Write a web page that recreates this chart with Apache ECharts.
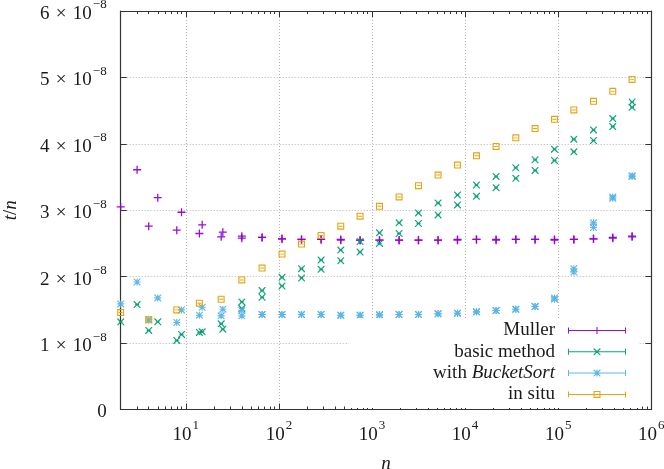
<!DOCTYPE html>
<html><head><meta charset="utf-8">
<script src="https://cdn.jsdelivr.net/npm/echarts@6/dist/echarts.min.js"></script>
<style>html,body{margin:0;padding:0;background:#fff}#c{width:664px;height:469px}</style>
</head><body><div id="c"></div>
<script>
// ---- data (t/n in units of 1e-8) ----
const nSmallA = [2, 4, 8, 14, 24];
const nSmallB = [3, 5, 9, 15, 25];
const nLarge = [40, 66, 108, 175, 284, 462, 745, 1204, 1955, 3157, 5125, 8285, 13250, 21520, 35060, 56490, 91250, 147300, 239400, 385600, 622000];

const mullerSmallA = [3.05, 2.76, 2.70, 2.65, 2.60];
const mullerSmallB = [3.61, 3.19, 2.97, 2.78, 2.67];
const mullerLargeA = [2.61, 2.59, 2.57, 2.56, 2.56, 2.56, 2.55, 2.55, 2.55, 2.55, 2.55, 2.56, 2.56, 2.56, 2.56, 2.56, 2.56, 2.56, 2.57, 2.58, 2.60];
const mullerLargeB = [2.58, 2.59, 2.57, 2.56, 2.56, 2.55, 2.55, 2.55, 2.55, 2.55, 2.55, 2.55, 2.56, 2.55, 2.56, 2.56, 2.55, 2.56, 2.57, 2.59, 2.61];

const basicSmallA = [1.32, 1.19, 1.04, 1.16, 1.29];
const basicSmallB = [1.58, 1.32, 1.13, 1.17, 1.21];
const basicLargeA = [1.62, 1.79, 1.99, 2.12, 2.25, 2.40, 2.53, 2.66, 2.81, 2.96, 3.11, 3.23, 3.38, 3.51, 3.64, 3.76, 3.92, 4.07, 4.21, 4.38, 4.63];
const basicLargeB = [1.52, 1.69, 1.86, 1.98, 2.11, 2.24, 2.37, 2.50, 2.65, 2.80, 2.93, 3.08, 3.21, 3.34, 3.48, 3.60, 3.75, 3.88, 4.05, 4.26, 4.55];

const bucketSmallA = [1.59, 1.35, 1.31, 1.42, 1.41];
const bucketSmallB = [1.92, 1.68, 1.50, 1.54, 1.51];
const bucketLargeA = [1.41, 1.43, 1.43, 1.43, 1.43, 1.42, 1.42, 1.42, 1.43, 1.43, 1.44, 1.45, 1.47, 1.49, 1.51, 1.55, 1.66, 2.07, 2.74, 3.18, 3.51];
const bucketLargeB = [1.49, 1.43, 1.43, 1.43, 1.43, 1.42, 1.42, 1.43, 1.43, 1.43, 1.44, 1.45, 1.47, 1.49, 1.51, 1.55, 1.68, 2.12, 2.81, 3.20, 3.52];

const insituSmallA = [1.46, 1.35, 1.50, 1.60, 1.66];
const insituLargeA = [1.95, 2.13, 2.34, 2.49, 2.62, 2.76, 2.91, 3.06, 3.20, 3.37, 3.53, 3.68, 3.82, 3.96, 4.09, 4.23, 4.37, 4.51, 4.64, 4.79, 4.97];

const seriesNames = ['Muller', 'basic method', 'with BucketSort', 'in situ'];
const seriesColors = ['#9400d3', '#009e73', '#56b4e9', '#e69f00'];
const yTickValues = [0, 1, 2, 3, 4, 5, 6];
const xMinorTicks = [3, 4, 5, 6, 7, 8, 9,
  20, 30, 40, 50, 60, 70, 80, 90,
  200, 300, 400, 500, 600, 700, 800, 900,
  2000, 3000, 4000, 5000, 6000, 7000, 8000, 9000,
  20000, 30000, 40000, 50000, 60000, 70000, 80000, 90000,
  200000, 300000, 400000, 500000, 600000, 700000, 800000, 900000];

// ---- helpers ----
function zip(xs, ys) { return ys.map((y, i) => [xs[i], y]); }
function rect(x, y, w, h) { return 'M' + x + ' ' + y + 'h' + w + 'v' + h + 'h' + (-w) + 'Z'; }
function hole(x, y, w, h) { return 'M' + x + ' ' + y + 'v' + h + 'h' + w + 'v' + (-h) + 'Z'; }
function plusP(ox, oy, s, t) { return rect(ox, oy + s / 2 - t / 2, s, t) + rect(ox + s / 2 - t / 2, oy, t, s); }
function crossP(ox, oy, s, t) {
  const d = t * 0.75;
  return 'M' + ox + ' ' + oy + 'L' + (ox + d) + ' ' + oy + 'L' + (ox + s) + ' ' + (oy + s - d) + 'L' + (ox + s) + ' ' + (oy + s) + 'L' + (ox + s - d) + ' ' + (oy + s) + 'L' + ox + ' ' + (oy + d) + 'Z' +
    'M' + (ox + s) + ' ' + oy + 'L' + (ox + s) + ' ' + (oy + d) + 'L' + (ox + d) + ' ' + (oy + s) + 'L' + ox + ' ' + (oy + s) + 'L' + ox + ' ' + (oy + s - d) + 'L' + (ox + s - d) + ' ' + oy + 'Z';
}
function dashP(ox, oy, s, t) { return rect(ox + s * 0.22, oy + s / 2 - t / 2, s * 0.56, t); }
function markerP(kind, ox, oy, s, t) {
  if (kind === 0) return plusP(ox, oy, s, t);
  if (kind === 1) return crossP(ox, oy, s, t) + dashP(ox, oy, s, t * 0.8);
  if (kind === 2) return plusP(ox, oy, s, t) + crossP(ox, oy, s, t);
  return rect(ox, oy, s, s) + hole(ox + t, oy + t, s - 2 * t, s - 2 * t) + dashP(ox, oy, s, t * 0.8);
}
function symbolPath(kind) { return 'path://' + markerP(kind, 0, 0, 10, 1.6); }
function legendPath(kind) {
  return 'path://' + rect(0, 3, 58, 1) + rect(0, 0.5, 1, 6) + rect(57, 0.5, 1, 6) + markerP(kind, 25.5, 0, 7, 1.1);
}

const FONT = 'Liberation Serif';
const FS = 19;
const TXT = '#1a1a1a';
const FRAME = '#333';
const GRIDC = '#b4b4b4';

const dataSets = [
  zip(nSmallA, mullerSmallA).concat(zip(nSmallB, mullerSmallB), zip(nLarge, mullerLargeA), zip(nLarge, mullerLargeB)),
  zip(nSmallA, basicSmallA).concat(zip(nSmallB, basicSmallB), zip(nLarge, basicLargeA), zip(nLarge, basicLargeB)),
  zip(nSmallA, bucketSmallA).concat(zip(nSmallB, bucketSmallB), zip(nLarge, bucketLargeA), zip(nLarge, bucketLargeB)),
  zip(nSmallA, insituSmallA).concat(zip(nLarge, insituLargeA))
];

const chart = echarts.init(document.getElementById('c'), null, { renderer: 'canvas' });
const supRich = {
  b: { fontFamily: FONT, fontSize: FS, lineHeight: 25, color: TXT, verticalAlign: 'bottom' },
  s: { fontFamily: FONT, fontSize: 13, lineHeight: 13, color: TXT, verticalAlign: 'top', padding: [0, 0, 0, 1] }
};
const lgMin = Math.log10(2);
const gridRect = { left: 120.7, right: 12.7, top: 11, bottom: 59.5, containLabel: false, outerBoundsMode: 'none' };
const tickStyle = { color: FRAME, width: 1 };

chart.setOption({
  animation: false,
  backgroundColor: '#fff',
  grid: [Object.assign({}, gridRect), Object.assign({}, gridRect)],
  xAxis: [
    {
      gridIndex: 0, type: 'log', logBase: 10, min: 2, max: 1000000, position: 'bottom',
      name: 'n', nameLocation: 'middle', nameGap: 45,
      nameTextStyle: { fontFamily: FONT, fontSize: FS, fontStyle: 'italic', color: TXT },
      axisLine: { show: true, onZero: false, lineStyle: { color: FRAME, width: 1.2 } },
      axisTick: { show: true, inside: true, length: 6, lineStyle: tickStyle },
      minorTick: { show: false },
      splitLine: { show: true, lineStyle: { color: GRIDC, type: [1, 2], width: 1 } },
      axisLabel: {
        margin: 10, showMinLabel: true, showMaxLabel: true,
        formatter: function (v) {
          const e = Math.round(Math.log10(v));
          if (Math.abs(Math.pow(10, e) - v) > 1e-6 * v) return '';
          return '{b|10}{s|' + e + '}';
        },
        rich: supRich
      }
    },
    {
      gridIndex: 0, type: 'log', logBase: 10, min: 2, max: 1000000, position: 'top',
      axisLine: { show: true, onZero: false, lineStyle: { color: FRAME, width: 1.2 } },
      axisTick: { show: true, inside: true, length: 6, lineStyle: tickStyle },
      axisLabel: { show: false }, splitLine: { show: false }
    },
    {
      gridIndex: 1, type: 'value', min: lgMin, max: 6, position: 'bottom',
      axisLine: { show: false }, axisLabel: { show: false }, splitLine: { show: false },
      axisTick: { show: true, inside: true, length: 3, lineStyle: tickStyle, customValues: xMinorTicks.map(Math.log10) }
    },
    {
      gridIndex: 1, type: 'value', min: lgMin, max: 6, position: 'top',
      axisLine: { show: false }, axisLabel: { show: false }, splitLine: { show: false },
      axisTick: { show: true, inside: true, length: 3, lineStyle: tickStyle, customValues: xMinorTicks.map(Math.log10) }
    }
  ],
  yAxis: [
    {
      gridIndex: 0, type: 'value', min: 0, max: 6, interval: 1, position: 'left',
      name: '{i|t}{r|/}{i|n}', nameLocation: 'middle', nameGap: 100,
      nameTextStyle: {
        rich: {
          i: { fontFamily: FONT, fontSize: FS, fontStyle: 'italic', color: TXT },
          r: { fontFamily: FONT, fontSize: FS, color: TXT }
        }
      },
      axisLine: { show: true, onZero: false, lineStyle: { color: FRAME, width: 1.2 } },
      axisTick: { show: true, inside: true, length: 6, lineStyle: tickStyle },
      splitLine: { show: true, lineStyle: { color: GRIDC, type: [1, 2], width: 1 } },
      axisLabel: {
        margin: 14,
        customValues: yTickValues,
        formatter: function (v) {
          if (v === 0) return '{b|0}';
          return '{b|' + v + '\u2004×\u200410}{s|−8}';
        },
        rich: supRich
      }
    },
    {
      gridIndex: 0, type: 'value', min: 0, max: 6, interval: 1, position: 'right',
      axisLine: { show: true, onZero: false, lineStyle: { color: FRAME, width: 1.2 } },
      axisTick: { show: true, inside: true, length: 6, lineStyle: tickStyle },
      axisLabel: { show: false }, splitLine: { show: false }
    },
    {
      gridIndex: 1, type: 'value', min: 0, max: 6, show: false
    }
  ],
  legend: {
    orient: 'vertical', align: 'right', right: 26, top: 318,
    padding: [3, 12, 4, 84], itemGap: 2.3, itemWidth: 58, itemHeight: 7,
    backgroundColor: '#fff', borderWidth: 0,
    selectedMode: false,
    data: seriesNames.map((nm, i) => ({ name: nm, icon: legendPath(i) })),
    formatter: function (name) {
      if (name === 'with BucketSort') return '{r|with }{i|BucketSort}{g|}';
      return '{r|' + name + '}{g|}';
    },
    textStyle: {
      rich: {
        r: { fontFamily: FONT, fontSize: FS, lineHeight: 19, color: TXT },
        i: { fontFamily: FONT, fontSize: FS, lineHeight: 19, fontStyle: 'italic', color: TXT },
        g: { width: 8 }
      }
    }
  },
  series: dataSets.map((d, i) => ({
    name: seriesNames[i], type: 'scatter', xAxisIndex: 0, yAxisIndex: 0,
    data: d, symbol: symbolPath(i), symbolSize: i === 0 ? 8 : 7, symbolKeepAspect: true,
    itemStyle: { color: seriesColors[i], opacity: 0.95 },
    emphasis: { disabled: true }, silent: true
  }))
});
</script></body></html>
